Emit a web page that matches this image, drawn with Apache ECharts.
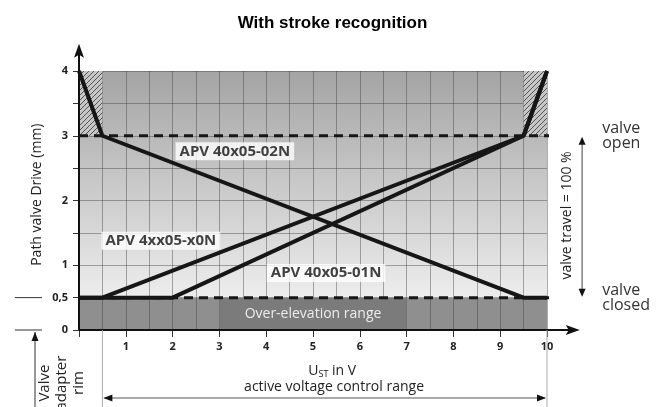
<!DOCTYPE html>
<html>
<head>
<meta charset="utf-8">
<title>With stroke recognition</title>
<script src="https://cdn.jsdelivr.net/npm/echarts@6/dist/echarts.min.js"></script>
<style>
  html, body { margin: 0; padding: 0; background: #fff; }
  #main { width: 665px; height: 407px; }
</style>
</head>
<body>
<div id="main"></div>
<script>
  // U_ST (V) on x, path of valve drive (mm) on y
  var yTickLabels = {'0': '0', '0.5': '0,5', '1': '1', '2': '2', '3': '3', '4': '4'};

  var seriesNames = ['APV 40x05-02N', 'APV 4xx05-x0N', 'APV 40x05-01N'];
  var apv02N = [[0, 4], [0.5, 3], [9.5, 0.5], [10, 0.5]];
  var apvX0N = [[0, 0.5], [0.5, 0.5], [9.5, 3], [10, 4]];
  var apv01N = [[0, 0.5], [2, 0.5], [9.5, 3], [10, 4]];
  var seriesLabelAt = [[3.33, 2.76], [1.75, 1.38], [5.28, 0.88]];

  var valveOpen = 3;
  var valveClosed = 0.5;
  var dashEnd = 11.05;
  var strokeZones = [[0, 0.5], [9.5, 10]];   // hatched, between valveOpen and 4
  var overElevation = [3, 7];                // box in the 0 .. valveClosed band
  var activeRange = [0.5, 10];

  // hatch pattern for the stroke recognition corners
  var hatch = document.createElement('canvas');
  hatch.width = 5; hatch.height = 5;
  var hc = hatch.getContext('2d');
  hc.fillStyle = '#c6c6c6';
  hc.fillRect(0, 0, 5, 5);
  hc.strokeStyle = '#555';
  hc.lineWidth = 1;
  hc.beginPath();
  hc.moveTo(0, 5); hc.lineTo(5, 0);
  hc.moveTo(-1, 1); hc.lineTo(1, -1);
  hc.moveTo(4, 6); hc.lineTo(6, 4);
  hc.stroke();

  var font = 'Open Sans';
  var gridLine = {color: 'rgba(60,60,60,0.42)', width: 1};
  var thick = {color: '#161616', width: 4};

  var chart = echarts.init(document.getElementById('main'));

  var option = {
    animation: false,
    title: {
      text: 'With stroke recognition',
      left: 'center',
      top: 10,
      textStyle: {fontFamily: 'Liberation Sans', fontWeight: 'bold', fontSize: 17, color: '#000'}
    },
    grid: {
      left: 79, right: 118, top: 71, bottom: 77,
      show: true, borderWidth: 0,
      backgroundColor: {
        type: 'linear', x: 0, y: 0, x2: 0, y2: 1,
        colorStops: [
          {offset: 0, color: '#a4a4a4'},
          {offset: 0.875, color: '#ededed'},
          {offset: 0.875, color: '#8f8f8f'},
          {offset: 1, color: '#8f8f8f'}
        ]
      }
    },
    xAxis: {
      type: 'value', min: 0, max: 10, interval: 1,
      axisLine: {show: false},
      axisTick: {show: true, length: 7, lineStyle: {color: '#333'}},
      axisLabel: {
        margin: 11, fontFamily: font, fontWeight: 'bold', fontSize: 11, color: '#222',
        formatter: function (v) { return v === 0 ? '' : String(v); }
      },
      splitLine: {show: true, lineStyle: gridLine},
      minorTick: {show: false, splitNumber: 2},
      minorSplitLine: {show: true, lineStyle: gridLine}
    },
    yAxis: {
      type: 'value', min: 0, max: 4, interval: 0.5,
      axisLine: {show: false},
      axisTick: {show: true, length: 6, lineStyle: {color: '#333'}},
      axisLabel: {
        margin: 11, fontFamily: font, fontWeight: 'bold', fontSize: 11, color: '#222',
        formatter: function (v) { return yTickLabels[String(v)] || ''; }
      },
      splitLine: {show: true, lineStyle: gridLine}
    },
    series: [
      {
        type: 'line', name: 'valve open', data: [[0, valveOpen], [dashEnd, valveOpen]],
        clip: false, symbol: 'none', silent: true, z: 3,
        lineStyle: {color: '#161616', width: 3, type: [9, 6]},
        markArea: {
          silent: true,
          itemStyle: {color: {image: hatch, repeat: 'repeat'}},
          data: strokeZones.map(function (z) {
            return [{coord: [z[0], valveOpen]}, {coord: [z[1], 4]}];
          })
        }
      },
      {
        type: 'line', name: 'valve closed', data: [[0, valveClosed], [dashEnd, valveClosed]],
        clip: false, symbol: 'none', silent: true, z: 3,
        lineStyle: {color: '#161616', width: 3, type: [9, 6]},
        markArea: {
          silent: true,
          itemStyle: {color: '#7b7b7b'},
          label: {show: true, position: 'inside', color: '#ececec', fontFamily: font, fontSize: 14},
          data: [[{coord: [overElevation[0], 0], name: 'Over-elevation range'}, {coord: [overElevation[1], valveClosed]}]]
        }
      },
      {type: 'line', name: seriesNames[0], data: apv02N, symbol: 'none', z: 5, lineStyle: thick},
      {type: 'line', name: seriesNames[1], data: apvX0N, symbol: 'none', z: 5, lineStyle: thick},
      {type: 'line', name: seriesNames[2], data: apv01N, symbol: 'none', z: 5, lineStyle: thick},
      {
        type: 'scatter', z: 6, symbolSize: 1, silent: true,
        itemStyle: {color: 'transparent'},
        data: seriesLabelAt.map(function (p, i) { return {value: p, name: seriesNames[i]}; }),
        label: {
          show: true, position: 'inside', formatter: '{b}',
          fontFamily: font, fontWeight: 'bold', fontSize: 15, color: '#111',
          backgroundColor: '#fff', padding: [2, 4, 1, 4]
        }
      }
    ]
  };

  chart.setOption(option);

  // annotations around the plot, placed through the grid's own scales
  function px(x, y) { return chart.convertToPixel({gridIndex: 0}, [x, y]); }

  function seg(a, b, color, w) {
    return {type: 'line', silent: true, z: 10,
      shape: {x1: a[0], y1: a[1], x2: b[0], y2: b[1]},
      style: {stroke: color, lineWidth: w}};
  }
  function head(tip, dx, dy, len, half, notch) {
    var bx = tip[0] - dx * len, by = tip[1] - dy * len;
    return {type: 'polygon', silent: true, z: 10,
      shape: {points: [tip, [bx - dy * half, by + dx * half],
        [tip[0] - dx * (len - notch), tip[1] - dy * (len - notch)], [bx + dy * half, by - dx * half]]},
      style: {fill: '#111'}};
  }
  function txt(p, text, size, opts) {
    var el = {type: 'text', silent: true, z: 10, x: p[0], y: p[1],
      style: {text: text, fontFamily: font, fontSize: size, fill: '#222',
        align: 'center', verticalAlign: 'middle'}};
    if (opts) {
      for (var k in opts.style || {}) el.style[k] = opts.style[k];
      if (opts.rotation) el.rotation = opts.rotation;
    }
    return el;
  }

  var o = px(0, 0);
  var yTop = px(0, 4.42);
  var xEnd = px(10.7, 0);
  var bottom = px(0, -1.2)[1];
  var dimY = px(0, -1.05)[1];
  var g = [];

  // axes with arrows
  g.push(seg(o, [yTop[0], yTop[1] + 8], '#111', 2));
  g.push(head(yTop, 0, -1, 14, 5, 3));
  g.push(seg(o, [xEnd[0] - 8, xEnd[1]], '#111', 2));
  g.push(head(xEnd, 1, 0, 14, 5, 3));

  // marks left of the y axis at 0 and 0,5
  [0, valveClosed].forEach(function (v) {
    g.push(seg(px(-1.37, v), px(-0.79, v), '#333', 1));
  });
  var rimX = px(-0.94, 0)[0];
  g.push(seg([rimX, o[1] + 2], [rimX, bottom], '#333', 1));
  g.push(head([rimX, o[1] + 2], 0, -1, 9, 3.5, 0));
  g.push(txt(px(-0.36, -0.82), 'Valve\nadapter\nrim', 15,
    {rotation: Math.PI / 2, style: {lineHeight: 17}}));

  // active voltage control range
  var a0 = px(activeRange[0], 0)[0], a1 = px(activeRange[1], 0)[0];
  g.push(seg([a0, o[1]], [a0, bottom], '#aaa', 1));
  g.push(seg([a1, o[1]], [a1, bottom], '#aaa', 1));
  g.push(seg([a0 + 2, dimY], [a1 - 2, dimY], '#555', 1));
  g.push(head([a0 + 1, dimY], -1, 0, 9, 3.5, 0));
  g.push(head([a1 - 1, dimY], 1, 0, 9, 3.5, 0));
  g.push(txt(px(5.41, -0.64), '{u|U}{s|ST}{u| in V}', 14, {style: {rich: {
    u: {fontFamily: font, fontSize: 14, fill: '#222'},
    s: {fontFamily: font, fontSize: 9, fill: '#222', padding: [6, 0, 0, 0]}
  }}}));
  g.push(txt(px(5.45, -0.88), 'active voltage control range', 14));

  // valve travel
  var tv = px(10.75, valveOpen), tc = px(10.75, valveClosed);
  g.push(seg([tv[0], tv[1] + 3], [tc[0], tc[1] - 3], '#444', 1));
  g.push(head([tv[0], tv[1] + 1], 0, -1, 8, 3.5, 0));
  g.push(head([tc[0], tc[1] - 1], 0, 1, 8, 3.5, 0));
  g.push(txt(px(10.43, 1.77), 'valve travel = 100 %', 14, {rotation: Math.PI / 2}));
  g.push(txt(px(11.18, valveOpen), 'valve\nopen', 16,
    {style: {align: 'left', lineHeight: 15, fill: '#333'}}));
  g.push(txt(px(11.18, valveClosed), 'valve\nclosed', 16,
    {style: {align: 'left', lineHeight: 15, fill: '#333'}}));

  // y axis name
  g.push(txt(px(-0.9, 2.09), 'Path valve Drive (mm)', 14, {rotation: Math.PI / 2}));

  chart.setOption({graphic: {elements: g}});
</script>
</body>
</html>
